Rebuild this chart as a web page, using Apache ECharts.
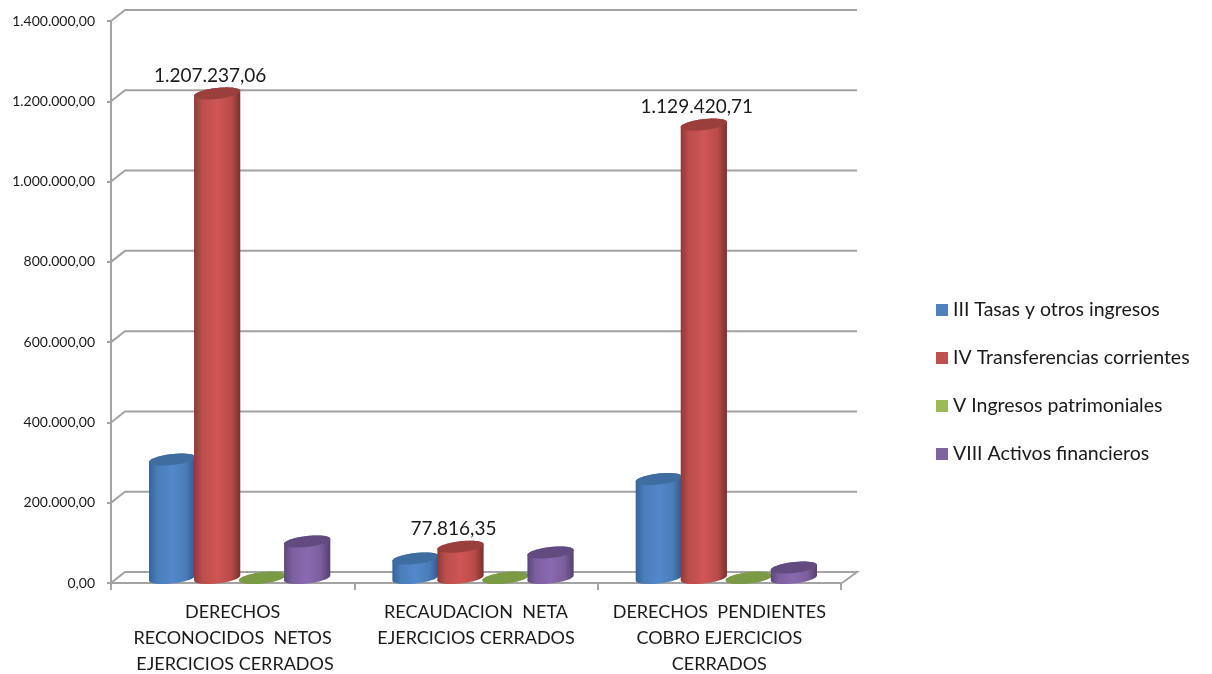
<!DOCTYPE html>
<html>
<head>
<meta charset="utf-8">
<style>html,body{margin:0;padding:0;background:#fff}#chart{width:1212px;height:674px}</style>
<script src="https://cdn.jsdelivr.net/npm/echarts@6/dist/echarts.min.js"></script>
</head>
<body>
<div id="chart"></div>
<script>
// Liquidación de ejercicios cerrados por capítulo de ingresos
const categories = [
  'DERECHOS\nRECONOCIDOS  NETOS\n EJERCICIOS CERRADOS',
  'RECAUDACION  NETA\nEJERCICIOS CERRADOS',
  'DERECHOS  PENDIENTES\nCOBRO EJERCICIOS\nCERRADOS'
];
const yTicks = [0, 200000, 400000, 600000, 800000, 1000000, 1200000, 1400000];
const tasas = [295000, 48500, 246500];
const transferencias = [1207237.06, 77816.35, 1129420.71];
const patrimoniales = [500, 500, 500];
const activos = [91000, 63500, 26000];

const seriesNames = ['III Tasas y otros ingresos', 'IV Transferencias corrientes', 'V Ingresos patrimoniales', 'VIII Activos financieros'];
const seriesValues = [tasas, transferencias, patrimoniales, activos];
const labelledSeries = 1;

// legend colour, cap colour, shaded body stops
const palette = [
  {base: '#4f81bd', cap: '#3f6d9f', stops: ['#34649a', '#4a7db9', '#5289cc', '#4a7cb8', '#2f5a8c']},
  {base: '#c0504d', cap: '#9b3f3d', stops: ['#8f3a38', '#bb4e4b', '#cf5654', '#b94c4a', '#7c2f2d']},
  {base: '#9bbb59', cap: '#7a9a44', stops: ['#76923c', '#7a9a44', '#7f9f48', '#7a9a44', '#76923c']},
  {base: '#8064a2', cap: '#624b7e', stops: ['#5d4779', '#7d60a0', '#8a69b0', '#7a5e9c', '#54406f']}
];

const fontFamily = 'Lato, Carlito, "Open Sans", sans-serif';
const gridColor = '#a3a3a3';
const depthX = 14, depthY = 11, columnLift = 5;
const columnShare = 0.19;

function money(v) {
  const parts = v.toFixed(2).split('.');
  return parts[0].replace(/\B(?=(\d{3})+(?!\d))/g, '.') + ',' + parts[1];
}

// Tilted ellipse outline between two angles
function arc(cx, cy, a, from, to, steps) {
  const b = 5.5, tilt = 2.5, pts = [];
  for (let i = 0; i <= steps; i++) {
    const t = from + (to - from) * i / steps;
    pts.push([cx + a * Math.cos(t), cy + b * Math.sin(t) - tilt * Math.cos(t)]);
  }
  return pts;
}

function cylinder(seriesIndex) {
  return function (params, api) {
    const cat = api.value(0), val = api.value(1);
    const band = api.size([1, 0])[0];
    const w = band * columnShare;
    const top = api.coord([cat, val]);
    const base = api.coord([cat, 0]);
    const cx = top[0] + (seriesIndex - 1.5) * (band * 0.185) + depthX / 2;
    const topY = top[1] - columnLift, baseY = base[1] - columnLift;
    const a = w / 2;
    const col = palette[seriesIndex];

    const body = arc(cx, baseY, a, 0, Math.PI, 40).concat(arc(cx, topY, a, Math.PI, 2 * Math.PI, 40));
    const children = [
      {
        type: 'polygon',
        shape: {points: body},
        style: {
          fill: new echarts.graphic.LinearGradient(0, 0, 1, 0, [
            {offset: 0, color: col.stops[0]},
            {offset: 0.18, color: col.stops[1]},
            {offset: 0.5, color: col.stops[2]},
            {offset: 0.8, color: col.stops[3]},
            {offset: 1, color: col.stops[4]}
          ])
        }
      },
      {
        type: 'polygon',
        shape: {points: arc(cx, topY, a, 0, 2 * Math.PI, 80)},
        style: {fill: col.cap}
      }
    ];
    if (seriesIndex === labelledSeries) {
      children.push({
        type: 'text',
        style: {
          x: cx - depthX / 2,
          y: top[1] - 23,
          text: money(val),
          fill: '#1a1a1a',
          font: '19px ' + fontFamily,
          align: 'center',
          verticalAlign: 'middle'
        }
      });
    }
    return {type: 'group', children: children};
  };
}

// Side wall and back wall rules for each axis division
function wallRule(params, api) {
  const val = api.value(1);
  const sys = params.coordSys;
  const y = api.coord([0, val])[1];
  const left = sys.x, right = sys.x + sys.width;
  const pts = [[left, y], [left + depthX, y - depthY], [right + depthX + 2, y - depthY]];
  if (val === 0) pts.push([right + 1, y]);
  return {
    type: 'polyline',
    shape: {points: pts},
    style: {stroke: gridColor, lineWidth: 2, fill: 'none'}
  };
}

const chart = echarts.init(document.getElementById('chart'), null, {renderer: 'canvas'});
chart.setOption({
  animation: false,
  backgroundColor: '#ffffff',
  textStyle: {fontFamily: fontFamily},
  legend: {
    orient: 'vertical',
    left: 931,
    top: 294,
    itemWidth: 12,
    itemHeight: 12,
    itemGap: 26,
    icon: 'rect',
    data: seriesNames,
    textStyle: {fontFamily: fontFamily, fontSize: 19.5, color: '#1a1a1a', height: 22, lineHeight: 22}
  },
  grid: {left: 111, top: 21, width: 730, height: 562, outerBoundsMode: 'none'},
  xAxis: {
    type: 'category',
    data: categories,
    axisLine: {show: true, onZero: false, lineStyle: {color: gridColor, width: 2}},
    axisTick: {show: true, length: 7, lineStyle: {color: gridColor, width: 2}},
    axisLabel: {color: '#1a1a1a', fontSize: 18, lineHeight: 26, margin: 16, interval: 0, fontFamily: fontFamily}
  },
  yAxis: {
    type: 'value',
    min: 0,
    max: 1400000,
    interval: 200000,
    axisLine: {show: true, lineStyle: {color: gridColor, width: 2}},
    axisTick: {show: true, length: 4, lineStyle: {color: gridColor, width: 2}},
    splitLine: {show: false},
    axisLabel: {color: '#1a1a1a', fontSize: 14, margin: 16, padding: [2, 0, 0, 0], formatter: money, fontFamily: fontFamily}
  },
  series: [
    {
      type: 'custom',
      name: 'rules',
      renderItem: wallRule,
      clip: false,
      silent: true,
      z: 1,
      encode: {x: 0, y: 1},
      data: yTicks.map(v => [0, v])
    }
  ].concat(seriesNames.map((name, s) => ({
    type: 'custom',
    name: name,
    renderItem: cylinder(s),
    clip: false,
    z: 3 + s,
    itemStyle: {color: palette[s].base},
    encode: {x: 0, y: 1},
    data: seriesValues[s].map((v, i) => [i, v])
  })))
});
</script>
</body>
</html>
